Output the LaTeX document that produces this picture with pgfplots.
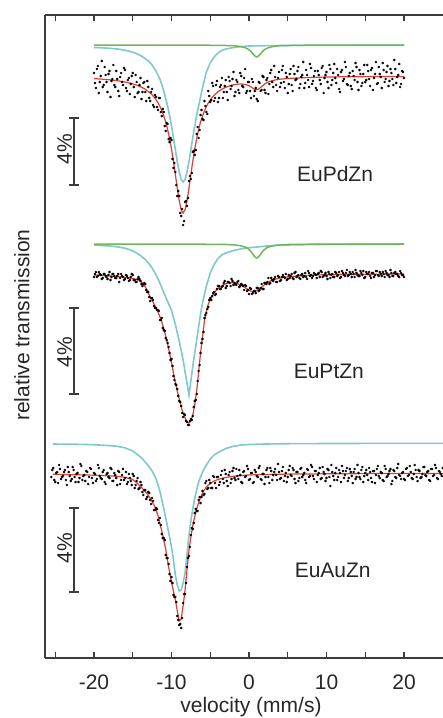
\documentclass[border=0pt]{standalone}
\usepackage{fontspec}
\setmainfont{Liberation Sans}
\usepackage{pgfplots}
\pgfplotsset{compat=1.18}
\definecolor{fitred}{RGB}{222,62,52}
\definecolor{cyanc}{RGB}{128,200,205}
\definecolor{greenc}{RGB}{112,182,88}
\definecolor{axisgray}{RGB}{60,60,60}
\begin{document}
\begin{tikzpicture}[font=\fontsize{21}{25}\selectfont]
\begin{axis}[
 scale only axis, width=398pt, height=643pt,
 xmin=-26.32, xmax=25.03, ymin=15, ymax=658, y dir=reverse,
 axis x line*=box, axis y line*=left,
 axis line style={axisgray, line width=1.3pt},
 xtick={-20,-10,0,10,20}, xticklabels={-20,-10,0,10,20},
 minor xtick={-25,-15,-5,5,15},
 ytick=\empty,
 tick style={axisgray, line width=1.2pt},
 major tick length=6pt, minor tick length=6pt,
 tick align=inside,
 xticklabel style={anchor=base, yshift=-31pt, font=\fontsize{21}{25}\selectfont, text=black!85},
 xlabel={velocity (mm/s)},
 xlabel style={at={(axis cs:0.25,712)}, anchor=base, font=\fontsize{21}{25}\selectfont, text=black!85},
 ylabel={relative transmission},
 ylabel style={at={(axis cs:-29.3,325)}, anchor=center, font=\fontsize{21}{25}\selectfont, text=black!85},
]
\coordinate (axsw) at (axis cs:-26.32,658);
\coordinate (axne) at (axis cs:25.03,15);
% ---------- EuPdZn ----------
\addplot[cyanc, line width=1.6pt] coordinates {(-20,47.5) (-19,47.8) (-18,48.3) (-17,49.0) (-16,50.2) (-15,52.2) (-14.5,53.7) (-14,55.5) (-13.5,58) (-13,61) (-12.5,65) (-12,71) (-11.5,79) (-11.25,84.5) (-11,91) (-10.75,98.5) (-10.5,106) (-10.25,115.5) (-10,126) (-9.75,137.5) (-9.5,149.7) (-9.25,161.8) (-9,172) (-8.75,179.5) (-8.5,182) (-8.25,179.5) (-8,172) (-7.75,161.8) (-7.5,149.7) (-7.25,137.5) (-7,126) (-6.75,115.5) (-6.5,106) (-6.25,97) (-6,88) (-5.75,80) (-5.5,72) (-5,63) (-4.5,57) (-4,53) (-3.5,50.5) (-3,49) (-2,47.5) (-1,46.5) (0,46) (2,45.7) (6,45.4) (20,45.2)};
\addplot[greenc, line width=1.5pt] coordinates {(-20,45.0) (-9,45.1) (-6,45.2) (-4,45.3) (-3,45.5) (-2,45.7) (-1.5,46.1) (-1,46.7) (-0.5,47.7) (-0.25,48.5) (0,49.7) (0.25,51.4) (0.5,53.6) (0.75,55.9) (1,57) (1.25,55.9) (1.5,53.6) (1.75,51.4) (2,49.7) (2.25,48.5) (2.5,47.7) (3,46.7) (3.5,46.1) (4,45.7) (5,45.5) (6,45.3) (8,45.2) (11,45.1) (20,45.0)};
\addplot[only marks, mark=*, mark size=1.05pt, black] coordinates {(-20,73) (-19.75,88) (-19.5,66) (-19.25,82) (-19,61) (-18.75,85) (-18.5,75) (-18.25,92) (-18,71) (-17.75,81) (-17.5,65) (-17.25,87) (-17,79) (-16.75,96) (-16.5,73) (-16.25,85) (-16,70) (-15.75,91) (-15.5,78) (-15.25,84) (-15,73) (-14.75,97) (-14.5,82) (-14.25,92) (-14,78) (-13.75,92) (-13.5,82) (-13.25,101) (-13,87) (-12.75,101) (-12.5,89) (-12.25,107) (-12,97) (-11.75,110) (-11.5,98) (-11.25,116) (-11,112) (-10.75,131) (-10.5,124) (-10.25,142) (-10,140) (-9.75,168) (-9.5,172) (-9.25,196) (-9,196) (-8.75,216) (-8.5,225) (-8.25,202) (-8,206) (-7.75,181) (-7.5,179) (-7.25,152) (-7,155) (-6.75,134) (-6.5,138) (-6.25,115) (-6,119) (-5.75,101) (-5.5,112) (-5.25,91) (-5,102) (-4.75,83) (-4.5,101) (-4.25,85) (-4,102) (-3.75,87) (-3.5,78) (-3.25,92) (-3,80) (-2.75,100) (-2.5,81) (-2.25,86) (-2,72) (-1.75,92) (-1.5,82) (-1.25,93) (-1,76) (-0.75,87) (-0.5,69) (-0.25,91) (0,82) (0.25,98) (0.5,82) (0.75,91) (1,99) (1.25,82) (1.5,91) (1.75,76) (2,90) (2.25,80) (2.5,94) (2.75,73) (3,82) (3.25,66) (3.5,85) (3.75,78) (4,87) (4.25,70) (4.5,82) (4.75,73) (5,93) (5.25,74) (5.5,85) (5.75,66) (6,80) (6.25,71) (6.5,88) (6.75,77) (7,62) (7.25,83) (7.5,75) (7.75,87) (8,68) (8.25,81) (8.5,71) (8.75,90) (9,75) (9.25,84) (9.5,66) (9.75,78) (10,72) (10.25,88) (10.5,69) (10.75,80) (11,64) (11.25,83) (11.5,75) (11.75,92) (12,70) (12.25,79) (12.5,67) (12.75,85) (13,73) (13.25,89) (13.5,76) (13.75,63) (14,82) (14.25,70) (14.5,86) (14.75,74) (15,82) (15.25,65) (15.5,79) (15.75,70) (16,90) (16.25,74) (16.5,84) (16.75,67) (17,77) (17.25,63) (17.5,82) (17.75,72) (18,86) (18.25,69) (18.5,79) (18.75,60) (19,83) (19.25,75) (19.5,87) (19.75,71) (20,78)
(-19.875,83) (-19.625,69) (-19.375,93) (-19.125,76) (-18.875,87) (-18.625,67) (-18.375,82) (-18.125,74) (-17.875,97) (-17.625,79) (-17.375,85) (-17.125,71) (-16.875,91) (-16.625,77) (-16.375,82) (-16.125,68) (-15.875,88) (-15.625,80) (-15.375,94) (-15.125,76) (-14.875,87) (-14.625,75) (-14.375,93) (-14.125,85) (-13.875,99) (-13.625,83) (-13.375,92) (-13.125,81) (-12.875,98) (-12.625,92) (-12.375,105) (-12.125,95) (-11.875,107) (-11.625,98) (-11.375,112) (-11.125,109) (-10.875,126) (-10.625,123) (-10.375,139) (-10.125,138) (-9.875,159) (-9.625,163) (-9.375,185) (-9.125,191) (-8.875,213) (-8.625,209) (-8.375,221) (-8.125,201) (-7.875,198) (-7.625,176) (-7.375,173) (-7.125,151) (-6.875,150) (-6.625,127) (-6.375,130) (-6.125,110) (-5.875,120) (-5.625,106) (-5.375,114) (-5.125,96) (-4.875,100) (-4.625,86) (-4.375,98) (-4.125,81) (-3.875,98) (-3.625,85) (-3.375,98) (-3.125,86) (-2.875,92) (-2.625,77) (-2.375,89) (-2.125,79) (-1.875,96) (-1.625,80) (-1.375,90) (-1.125,73) (-0.875,86) (-0.625,78) (-0.375,93) (-0.125,82) (0.125,91) (0.375,79) (0.625,96) (0.875,88) (1.125,101) (1.375,83) (1.625,90) (1.875,77) (2.125,93) (2.375,78) (2.625,84) (2.875,70) (3.125,87) (3.375,77) (3.625,91) (3.875,72) (4.125,83) (4.375,66) (4.625,88) (4.875,77) (5.125,84) (5.375,69) (5.625,91) (5.875,74) (6.125,79) (6.375,67) (6.625,84) (6.875,75) (7.125,88) (7.375,70) (7.625,80) (7.875,64) (8.125,84) (8.375,76) (8.625,88) (8.875,71) (9.125,80) (9.375,68) (9.625,93) (9.875,75) (10.125,82) (10.375,65) (10.625,85) (10.875,73) (11.125,78) (11.375,69) (11.625,89) (11.875,72) (12.125,81) (12.375,62) (12.625,84) (12.875,76) (13.125,86) (13.375,71) (13.625,80) (13.875,67) (14.125,90) (14.375,74) (14.625,83) (14.875,65) (15.125,80) (15.375,71) (15.625,86) (15.875,68) (16.125,78) (16.375,62) (16.625,83) (16.875,74) (17.125,88) (17.375,70) (17.625,79) (17.875,66) (18.125,81) (18.375,73) (18.625,85) (18.875,69) (19.125,77) (19.375,64) (19.625,84) (19.875,72)};
\addplot[fitred, line width=1.2pt] coordinates {(-20,78.6) (-19,79.1) (-18,79.8) (-17,80.7) (-16,82.0) (-15.5,82.8) (-15,83.8) (-14.5,85.1) (-14,86.7) (-13.5,88.7) (-13,91.4) (-12.75,93.0) (-12.5,94.9) (-12.25,97.1) (-12,99.7) (-11.75,102.7) (-11.5,106.3) (-11.25,110.6) (-11,115.8) (-10.75,122.0) (-10.5,129.5) (-10.25,138.4) (-10,148.9) (-9.75,161.1) (-9.5,174.5) (-9.25,188.3) (-9,200.8) (-8.75,209.7) (-8.5,213) (-8.25,209.7) (-8,200.8) (-7.75,188.3) (-7.5,174.5) (-7.25,161.1) (-7,148.9) (-6.75,138.4) (-6.5,129.5) (-6.25,122.0) (-6,116.0) (-5.75,110.8) (-5.5,106.6) (-5.25,103.0) (-5,100.0) (-4.75,97.4) (-4.5,95.3) (-4,91.8) (-3.5,89.2) (-3,87.3) (-2.5,85.9) (-2,84.8) (-1.5,84.2) (-1,84.0) (-0.5,84.4) (-0.25,84.9) (0,85.7) (0.25,86.8) (0.5,88.2) (0.75,89.4) (1,89.8) (1.25,89.0) (1.5,87.4) (1.75,85.7) (2,84.1) (2.25,82.9) (2.5,81.9) (3,80.6) (3.5,79.8) (4,79.2) (5,78.5) (6,78.1) (7,77.7) (8,77.5) (10,77.0) (12,76.8) (14,76.7) (17,76.5) (20,76.4)};
% ---------- EuPtZn ----------
\addplot[cyanc, line width=1.6pt] coordinates {(-20,245.0) (-18,246.0) (-17,246.8) (-16,248.2) (-15.5,249.4) (-15,251.0) (-14.5,253.0) (-14,255.5) (-13.5,258.7) (-13,262.7) (-12.5,268.0) (-12,274.8) (-11.5,283) (-11,292.5) (-10.5,301.5) (-10,310.5) (-9.5,324.5) (-9,341) (-8.5,360) (-8.25,372) (-8,383) (-7.75,395) (-7.5,381) (-7.25,366) (-7,353) (-6.75,340) (-6.5,327) (-6.25,314) (-6,303) (-5.5,286) (-5,273) (-4.5,264.5) (-4,258.5) (-3.5,255) (-3,253) (-2,250.5) (-1,248.8) (0,247.7) (1,247) (2,246.2) (3,245.6) (4,245.2) (6,244.8) (10,244.4) (15,244.2) (20,244.0)};
\addplot[greenc, line width=1.5pt] coordinates {(-20,244.0) (-9,244.1) (-6,244.2) (-4,244.4) (-3,244.5) (-2,244.9) (-1.5,245.3) (-1,245.9) (-0.5,247.1) (-0.25,248.1) (0,249.5) (0.25,251.5) (0.5,254.1) (0.75,256.8) (1,258) (1.25,256.8) (1.5,254.1) (1.75,251.5) (2,249.5) (2.25,248.1) (2.5,247.1) (3,245.9) (3.5,245.3) (4,244.9) (5,244.5) (6,244.4) (8,244.2) (11,244.1) (20,244.0)};
\addplot[only marks, mark=*, mark size=1.05pt, black] coordinates {(-20,277) (-19.75,272) (-19.5,276) (-19.25,274) (-19,279) (-18.75,274) (-18.5,276) (-18.25,279) (-18,272) (-17.75,277) (-17.5,274) (-17.25,278) (-17,276) (-16.75,282) (-16.5,274) (-16.25,277) (-16,279) (-15.75,276) (-15.5,281) (-15.25,277) (-15,275) (-14.75,280) (-14.5,282) (-14.25,277) (-14,281) (-13.75,286) (-13.5,283) (-13.25,290) (-13,292) (-12.75,301) (-12.5,298) (-12.25,306) (-12,308) (-11.75,310) (-11.5,320) (-11.25,318) (-11,330) (-10.75,338) (-10.5,343) (-10.25,353) (-10,359) (-9.75,376) (-9.5,384) (-9.25,389) (-9,401) (-8.75,406) (-8.5,417) (-8.25,415) (-8,422) (-7.75,425) (-7.5,419) (-7.25,416) (-7,401) (-6.75,394) (-6.5,371) (-6.25,353) (-6,339) (-5.75,318) (-5.5,313) (-5.25,307) (-5,298) (-4.75,296) (-4.5,292) (-4.25,294) (-4,286) (-3.75,289) (-3.5,287) (-3.25,283) (-3,288) (-2.75,282) (-2.5,283) (-2.25,279) (-2,285) (-1.75,284) (-1.5,282) (-1.25,287) (-1,284) (-0.75,286) (-0.5,285) (-0.25,291) (0,294) (0.25,289) (0.5,293) (0.75,291) (1,288) (1.25,291) (1.5,288) (1.75,289) (2,283) (2.25,284) (2.5,278) (2.75,283) (3,280) (3.25,279) (3.5,282) (3.75,276) (4,281) (4.25,277) (4.5,277) (4.75,274) (5,279) (5.25,278) (5.5,274) (5.75,279) (6,272) (6.25,276) (6.5,278) (6.75,275) (7,277) (7.25,273) (7.5,279) (7.75,273) (8,275) (8.25,276) (8.5,274) (8.75,278) (9,273) (9.25,271) (9.5,277) (9.75,275) (10,276) (10.25,272) (10.5,278) (10.75,274) (11,277) (11.25,273) (11.5,275) (11.75,278) (12,271) (12.25,275) (12.5,273) (12.75,276) (13,272) (13.25,277) (13.5,274) (13.75,270) (14,275) (14.25,276) (14.5,273) (14.75,271) (15,277) (15.25,274) (15.5,272) (15.75,278) (16,273) (16.25,275) (16.5,271) (16.75,276) (17,274) (17.25,272) (17.5,277) (17.75,273) (18,275) (18.25,270) (18.5,276) (18.75,273) (19,274) (19.25,276) (19.5,271) (19.75,275) (20,277)
(-19.875,274) (-19.625,277) (-19.375,272) (-19.125,275) (-18.875,278) (-18.625,274) (-18.375,277) (-18.125,275) (-17.875,280) (-17.625,274) (-17.375,276) (-17.125,278) (-16.875,274) (-16.625,278) (-16.375,276) (-16.125,280) (-15.875,275) (-15.625,278) (-15.375,280) (-15.125,274) (-14.875,280) (-14.625,282) (-14.375,279) (-14.125,279) (-13.875,284) (-13.625,284) (-13.375,284) (-13.125,292) (-12.875,297) (-12.625,298) (-12.375,300) (-12.125,308) (-11.875,310) (-11.625,311) (-11.375,320) (-11.125,328) (-10.875,331) (-10.625,340) (-10.375,347) (-10.125,360) (-9.875,366) (-9.625,380) (-9.375,385) (-9.125,396) (-8.875,402) (-8.625,413) (-8.375,414) (-8.125,421) (-7.875,425) (-7.625,421) (-7.375,420) (-7.125,407) (-6.875,400) (-6.625,381) (-6.375,365) (-6.125,343) (-5.875,332) (-5.625,315) (-5.375,309) (-5.125,300) (-4.875,300) (-4.625,293) (-4.375,295) (-4.125,289) (-3.875,286) (-3.625,289) (-3.375,286) (-3.125,281) (-2.875,286) (-2.625,282) (-2.375,286) (-2.125,281) (-1.875,283) (-1.625,285) (-1.375,281) (-1.125,286) (-0.875,285) (-0.625,290) (-0.375,286) (-0.125,290) (0.125,288) (0.375,294) (0.625,291) (0.875,293) (1.125,288) (1.375,290) (1.625,284) (1.875,289) (2.125,283) (2.375,282) (2.625,284) (2.875,278) (3.125,281) (3.375,277) (3.625,282) (3.875,277) (4.125,280) (4.375,275) (4.625,278) (4.875,280) (5.125,275) (5.375,276) (5.625,278) (5.875,273) (6.125,277) (6.375,275) (6.625,279) (6.875,274) (7.125,276) (7.375,277) (7.625,271) (7.875,276) (8.125,278) (8.375,273) (8.625,275) (8.875,274) (9.125,277) (9.375,272) (9.625,276) (9.875,273) (10.125,279) (10.375,274) (10.625,275) (10.875,277) (11.125,272) (11.375,276) (11.625,272) (11.875,277) (12.125,273) (12.375,276) (12.625,270) (12.875,275) (13.125,274) (13.375,272) (13.625,277) (13.875,273) (14.125,276) (14.375,271) (14.625,275) (14.875,278) (15.125,272) (15.375,274) (15.625,276) (15.875,273) (16.125,277) (16.375,271) (16.625,275) (16.875,272) (17.125,276) (17.375,274) (17.625,271) (17.875,275) (18.125,277) (18.375,273) (18.625,276) (18.875,272) (19.125,274) (19.375,277) (19.625,273) (19.875,275)};
\addplot[fitred, line width=1.2pt] coordinates {(-20,275.0) (-19,275.4) (-18,275.9) (-17,276.5) (-16,277.3) (-15.5,277.9) (-15,278.6) (-14.5,279.6) (-14.25,280.2) (-14,281.2) (-13.75,282.8) (-13.5,285.3) (-13.25,288.8) (-13,293) (-12.75,297) (-12.5,300.5) (-12.25,304) (-12,308) (-11.75,312) (-11.5,316.5) (-11.25,322) (-11,328.5) (-10.75,336) (-10.5,344) (-10.25,353) (-10,362) (-9.75,373) (-9.5,382.5) (-9.25,391) (-9,399) (-8.75,407) (-8.5,413) (-8.25,418) (-8,422) (-7.75,423) (-7.5,421) (-7.25,415) (-7,405) (-6.75,391) (-6.5,372) (-6.25,353) (-6,337) (-5.75,321) (-5.5,311.5) (-5.25,304) (-5,299.5) (-4.75,296) (-4.5,293) (-4.25,290.5) (-4,288.5) (-3.75,287) (-3.5,285.7) (-3.25,284.6) (-3,283.8) (-2.75,283.2) (-2.5,282.8) (-2.25,282.7) (-2,282.8) (-1.75,283.1) (-1.5,283.6) (-1.25,284.3) (-1,285.2) (-0.75,286.3) (-0.5,287.6) (-0.25,289.0) (0,290.3) (0.25,291.2) (0.5,291.7) (0.75,291.5) (1,290.7) (1.25,289.4) (1.5,287.9) (1.75,286.3) (2,284.7) (2.25,283.3) (2.5,282.1) (2.75,281.0) (3,280.2) (3.5,278.9) (4,278.0) (4.5,277.3) (5,276.8) (5.5,276.4) (6,276.1) (7,275.6) (8,275.2) (9,274.9) (10,274.7) (12,274.4) (15,274.2) (20,274.0)};
% ---------- EuAuZn ----------
\addplot[cyanc, line width=1.6pt] coordinates {(-25.3,444.0) (-22,444.3) (-20,444.7) (-18,445.6) (-17,446.3) (-16,447.8) (-15,451) (-14,457) (-13.5,461) (-13,465.5) (-12.5,471) (-12,478.5) (-11.5,491) (-11,508.5) (-10.5,527) (-10,547) (-9.75,560) (-9.5,575) (-9.25,585) (-9,591) (-8.75,590) (-8.5,583) (-8.25,573) (-8,555) (-7.75,536) (-7.5,521) (-7.25,509) (-7,498) (-6.5,482) (-6,472) (-5.5,465) (-5,459) (-4.5,455) (-4,452.5) (-3,448.5) (-2,446.3) (-1,445) (0,444.5) (2,444) (5,443.7) (10,443.5) (25.03,443.3)};
\addplot[only marks, mark=*, mark size=1.05pt, black] coordinates {(-25.5,477) (-25.25,468) (-25,482) (-24.75,472) (-24.5,465) (-24.25,479) (-24,476) (-23.75,470) (-23.5,485) (-23.25,472) (-23,481) (-22.75,467) (-22.5,477) (-22.25,474) (-22,482) (-21.75,464) (-21.5,480) (-21.25,475) (-21,471) (-20.75,484) (-20.5,468) (-20.25,478) (-20,473) (-19.75,481) (-19.5,465) (-19.25,476) (-19,479) (-18.75,470) (-18.5,484) (-18.25,473) (-18,478) (-17.75,469) (-17.5,481) (-17.25,475) (-17,485) (-16.75,472) (-16.5,480) (-16.25,469) (-16,478) (-15.75,484) (-15.5,474) (-15.25,481) (-15,474) (-14.75,488) (-14.5,481) (-14.25,489) (-14,482) (-13.75,492) (-13.5,490) (-13.25,499) (-13,492) (-12.75,500) (-12.5,498) (-12.25,510) (-12,508) (-11.75,520) (-11.5,518) (-11.25,534) (-11,538) (-10.75,555) (-10.5,558) (-10.25,574) (-10,577) (-9.75,595) (-9.5,597) (-9.25,616) (-9,625) (-8.75,628) (-8.5,603) (-8.25,594) (-8,567) (-7.75,556) (-7.5,535) (-7.25,529) (-7,513) (-6.75,511) (-6.5,500) (-6.25,503) (-6,491) (-5.75,494) (-5.5,481) (-5.25,488) (-5,483) (-4.75,488) (-4.5,477) (-4.25,488) (-4,477) (-3.75,482) (-3.5,471) (-3.25,483) (-3,474) (-2.75,486) (-2.5,472) (-2.25,479) (-2,468) (-1.75,480) (-1.5,476) (-1.25,470) (-1,482) (-0.75,472) (-0.5,477) (-0.25,466) (0,480) (0.25,473) (0.5,483) (0.75,470) (1,476) (1.25,468) (1.5,479) (1.75,474) (2,484) (2.25,470) (2.5,477) (2.75,468) (3,480) (3.25,472) (3.5,475) (3.75,464) (4,479) (4.25,471) (4.5,481) (4.75,473) (5,477) (5.25,466) (5.5,476) (5.75,470) (6,483) (6.25,472) (6.5,478) (6.75,468) (7,475) (7.25,480) (7.5,469) (7.75,477) (8,465) (8.25,476) (8.5,471) (8.75,482) (9,473) (9.25,479) (9.5,467) (9.75,474) (10,478) (10.25,470) (10.5,486) (10.75,472) (11,480) (11.25,468) (11.5,477) (11.75,473) (12,466) (12.25,478) (12.5,471) (12.75,481) (13,469) (13.25,476) (13.5,472) (13.75,479) (14,465) (14.25,477) (14.5,470) (14.75,482) (15,473) (15.25,475) (15.5,468) (15.75,478) (16,471) (16.25,483) (16.5,469) (16.75,476) (17,472) (17.25,480) (17.5,466) (17.75,477) (18,474) (18.25,469) (18.5,481) (18.75,471) (19,478) (19.25,464) (19.5,476) (19.75,473) (20,479) (20.25,469) (20.5,476) (20.75,466) (21,478) (21.25,474) (21.5,470) (21.75,481) (22,471) (22.25,477) (22.5,467) (22.75,475) (23,472) (23.25,480) (23.5,469) (23.75,476) (24,465) (24.25,478) (24.5,471) (24.75,474) (25,468)
(-25.375,470) (-25.125,480) (-24.875,473) (-24.625,483) (-24.375,469) (-24.125,477) (-23.875,472) (-23.625,480) (-23.375,467) (-23.125,476) (-22.875,479) (-22.625,470) (-22.375,482) (-22.125,473) (-21.875,478) (-21.625,466) (-21.375,476) (-21.125,481) (-20.875,472) (-20.625,477) (-20.375,469) (-20.125,483) (-19.875,474) (-19.625,479) (-19.375,468) (-19.125,478) (-18.875,472) (-18.625,482) (-18.375,474) (-18.125,477) (-17.875,468) (-17.625,481) (-17.375,473) (-17.125,478) (-16.875,471) (-16.625,484) (-16.375,475) (-16.125,480) (-15.875,472) (-15.625,482) (-15.375,478) (-15.125,485) (-14.875,476) (-14.625,485) (-14.375,478) (-14.125,488) (-13.875,485) (-13.625,495) (-13.375,490) (-13.125,497) (-12.875,493) (-12.625,504) (-12.375,501) (-12.125,510) (-11.875,509) (-11.625,523) (-11.375,525) (-11.125,538) (-10.875,540) (-10.625,558) (-10.375,564) (-10.125,581) (-9.875,583) (-9.625,597) (-9.375,602) (-9.125,620) (-8.875,624) (-8.625,618) (-8.375,594) (-8.125,583) (-7.875,558) (-7.625,547) (-7.375,528) (-7.125,523) (-6.875,509) (-6.625,511) (-6.375,497) (-6.125,497) (-5.875,495) (-5.625,483) (-5.375,489) (-5.125,480) (-4.875,488) (-4.625,476) (-4.375,483) (-4.125,477) (-3.875,485) (-3.625,475) (-3.375,479) (-3.125,470) (-2.875,481) (-2.625,475) (-2.375,483) (-2.125,471) (-1.875,478) (-1.625,469) (-1.375,479) (-1.125,475) (-0.875,483) (-0.625,471) (-0.375,476) (-0.125,469) (0.125,479) (0.375,473) (0.625,482) (0.875,472) (1.125,477) (1.375,466) (1.625,480) (1.875,474) (2.125,477) (2.375,468) (2.625,483) (2.875,471) (3.125,475) (3.375,469) (3.625,480) (3.875,472) (4.125,478) (4.375,467) (4.625,476) (4.875,482) (5.125,470) (5.375,475) (5.625,468) (5.875,479) (6.125,472) (6.375,481) (6.625,469) (6.875,477) (7.125,473) (7.375,483) (7.625,470) (7.875,476) (8.125,467) (8.375,479) (8.625,471) (8.875,475) (9.125,468) (9.375,478) (9.625,472) (9.875,481) (10.125,469) (10.375,477) (10.625,465) (10.875,476) (11.125,473) (11.375,480) (11.625,470) (11.875,482) (12.125,471) (12.375,475) (12.625,468) (12.875,478) (13.125,472) (13.375,483) (13.625,469) (13.875,477) (14.125,473) (14.375,479) (14.625,467) (14.875,476) (15.125,470) (15.375,480) (15.625,472) (15.875,482) (16.125,471) (16.375,475) (16.625,466) (16.875,478) (17.125,473) (17.375,481) (17.625,469) (17.875,476) (18.125,471) (18.375,484) (18.625,470) (18.875,477) (19.125,468) (19.375,475) (19.625,479) (19.875,472) (20.125,480) (20.375,468) (20.625,475) (20.875,472) (21.125,479) (21.375,465) (21.625,477) (21.875,470) (22.125,478) (22.375,474) (22.625,467) (22.875,476) (23.125,471) (23.375,481) (23.625,469) (23.875,475) (24.125,468) (24.375,479) (24.625,472) (24.875,476)};
\addplot[fitred, line width=1.2pt] coordinates {(-25.3,474.3) (-24,474.5) (-22,474.8) (-20,475.2) (-18,475.8) (-17,476.3) (-16.5,476.8) (-16,477.4) (-15.5,478.3) (-15,479.5) (-14.75,481) (-14.5,482.7) (-14.25,484.6) (-14,486.5) (-13.75,488.5) (-13.5,490.6) (-13.25,492.8) (-13,495.3) (-12.75,498.2) (-12.5,501.5) (-12.25,505.2) (-12,509.5) (-11.75,515.5) (-11.5,523) (-11.25,531) (-11,540) (-10.75,549) (-10.5,561) (-10.25,572) (-10,582) (-9.75,591) (-9.5,600) (-9.25,611) (-9,621) (-8.75,619) (-8.5,606) (-8.25,590) (-8,570) (-7.75,551) (-7.5,537) (-7.25,525.5) (-7,516.5) (-6.75,509) (-6.5,502.5) (-6.25,497.5) (-6,493) (-5.75,489.8) (-5.5,487) (-5.25,485) (-5,483.5) (-4.75,482.2) (-4.5,481) (-4.25,480.2) (-4,479.5) (-3.5,478.4) (-3,477.5) (-2.5,476.8) (-2,476.3) (-1.5,475.9) (-1,475.5) (-0.5,475.2) (0,475) (1,474.7) (2,474.5) (3,474.3) (5,474.1) (10,473.8) (15,473.6) (20,473.5) (25.03,473.4)};
% ---------- scale bars and labels ----------
\draw[axisgray, line width=1.2pt] (axis cs:-22.58,118) -- (axis cs:-22.58,185);
\draw[axisgray, line width=1.2pt] (axis cs:-23.23,118) -- (axis cs:-21.93,118);
\draw[axisgray, line width=1.2pt] (axis cs:-23.23,185) -- (axis cs:-21.93,185);
\draw[axisgray, line width=1.2pt] (axis cs:-22.58,308) -- (axis cs:-22.58,394);
\draw[axisgray, line width=1.2pt] (axis cs:-23.23,308) -- (axis cs:-21.93,308);
\draw[axisgray, line width=1.2pt] (axis cs:-23.23,394) -- (axis cs:-21.93,394);
\draw[axisgray, line width=1.2pt] (axis cs:-22.58,508) -- (axis cs:-22.58,592);
\draw[axisgray, line width=1.2pt] (axis cs:-23.23,508) -- (axis cs:-21.93,508);
\draw[axisgray, line width=1.2pt] (axis cs:-23.23,592) -- (axis cs:-21.93,592);
\node[rotate=90, text=black!85] at (axis cs:-23.8,149) {4\%};
\node[rotate=90, text=black!85] at (axis cs:-23.8,352) {4\%};
\node[rotate=90, text=black!85] at (axis cs:-23.8,548) {4\%};
\node[text=black!85] at (axis cs:11.1,174) {EuPdZn};
\node[text=black!85] at (axis cs:10.3,371) {EuPtZn};
\node[text=black!85] at (axis cs:10.8,570) {EuAuZn};
\end{axis}
\pgfresetboundingbox
\path ([xshift=-45pt,yshift=-60pt]axsw) rectangle ([yshift=15pt]axne);
\end{tikzpicture}
\end{document}
